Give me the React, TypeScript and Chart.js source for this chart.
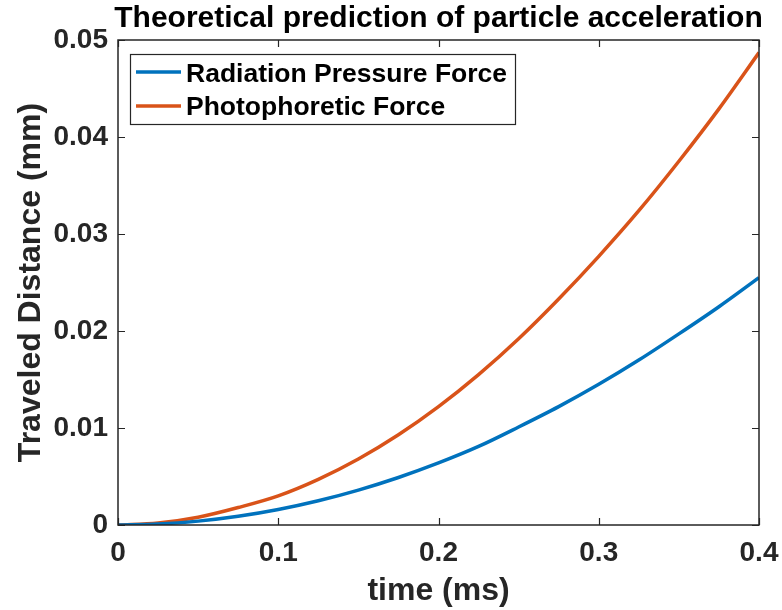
import React, { useEffect, useRef } from 'react';
import { Chart, registerables } from 'chart.js';

Chart.register(...registerables);

const chartTitle = 'Theoretical prediction of particle acceleration';
const xAxisTitle = 'time (ms)';
const yAxisTitle = 'Traveled Distance (mm)';

const timeMs = [0, 0.025, 0.05, 0.075, 0.1, 0.125, 0.15, 0.175, 0.2, 0.225, 0.25, 0.275, 0.3, 0.325, 0.35, 0.375, 0.4];
const radiationPressure = [0, 0.0001, 0.0004, 0.0009, 0.0016, 0.0025, 0.0036, 0.0049, 0.0064, 0.0081, 0.0101, 0.0122, 0.0145, 0.0170, 0.0197, 0.0225, 0.0255];
const photophoretic = [0, 0.0002, 0.0008, 0.0018, 0.0030, 0.0047, 0.0068, 0.0093, 0.0122, 0.0155, 0.0192, 0.0233, 0.0277, 0.0324, 0.0375, 0.0429, 0.0487];

const seriesLabels = ['Radiation Pressure Force', 'Photophoretic Force'];
const seriesColors = ['#0072BD', '#D95319'];

const xTickValues = [0, 0.1, 0.2, 0.3, 0.4];
const yTickValues = [0, 0.01, 0.02, 0.03, 0.04, 0.05];

const FONT = "'Liberation Sans', Arial, Helvetica, sans-serif";
const AXIS_COLOR = '#262626';

const framePlugin = {
  id: 'matlabFrame',
  afterDatasetsDraw(chart: any) {
    const { ctx, chartArea } = chart;
    const { left, right, top, bottom } = chartArea;
    const xs = chart.scales.x;
    const ys = chart.scales.y;
    ctx.save();
    ctx.strokeStyle = AXIS_COLOR;
    ctx.lineWidth = 1.2;
    const tl = 7;
    ctx.beginPath();
    xTickValues.forEach((v) => {
      const px = Math.round(xs.getPixelForValue(v)) + 0.5;
      ctx.moveTo(px, bottom);
      ctx.lineTo(px, bottom - tl);
      ctx.moveTo(px, top);
      ctx.lineTo(px, top + tl);
    });
    yTickValues.forEach((v) => {
      const py = Math.round(ys.getPixelForValue(v)) + 0.5;
      ctx.moveTo(left, py);
      ctx.lineTo(left + tl, py);
      ctx.moveTo(right, py);
      ctx.lineTo(right - tl, py);
    });
    ctx.stroke();
    ctx.lineWidth = 1.5;
    ctx.strokeRect(left, top, right - left, bottom - top);

    // title
    ctx.fillStyle = '#000';
    ctx.font = `bold 30px ${FONT}`;
    ctx.textAlign = 'center';
    ctx.textBaseline = 'alphabetic';
    ctx.fillText(chartTitle, (left + right) / 2, 27);

    // legend
    const bx = 130, by = 54, bw = 385, bh = 70;
    ctx.fillStyle = '#fff';
    ctx.fillRect(bx, by, bw, bh);
    ctx.strokeStyle = AXIS_COLOR;
    ctx.lineWidth = 1.2;
    ctx.strokeRect(bx + 0.5, by + 0.5, bw, bh);
    const rows = [72, 106];
    const baselines = [82, 115];
    chart.data.datasets.forEach((ds: any, i: number) => {
      ctx.strokeStyle = ds.borderColor;
      ctx.lineWidth = 3.5;
      ctx.beginPath();
      ctx.moveTo(136, rows[i]);
      ctx.lineTo(181, rows[i]);
      ctx.stroke();
      ctx.fillStyle = '#000';
      ctx.font = `bold 26.5px ${FONT}`;
      ctx.textAlign = 'left';
      ctx.textBaseline = 'alphabetic';
      ctx.fillText(ds.label, 186, baselines[i]);
    });
    ctx.restore();
  },
};

export default function App() {
  const canvasRef = useRef<HTMLCanvasElement | null>(null);

  useEffect(() => {
    if (!canvasRef.current) return;
    const datasets = [radiationPressure, photophoretic].map((vals, i) => ({
      label: seriesLabels[i],
      data: timeMs.map((t, j) => ({ x: t, y: vals[j] })),
      borderColor: seriesColors[i],
      backgroundColor: seriesColors[i],
      borderWidth: 3.5,
      pointRadius: 0,
      cubicInterpolationMode: 'monotone' as const,
      fill: false,
    }));
    const chart = new Chart(canvasRef.current, {
      type: 'line',
      data: { datasets },
      plugins: [framePlugin],
      options: {
        animation: false,
        responsive: false,
        layout: { padding: { top: 40, right: 23, left: 0, bottom: 0 } },
        plugins: {
          legend: { display: false },
          title: { display: false },
          tooltip: { enabled: false },
        },
        scales: {
          x: {
            type: 'linear',
            min: 0,
            max: 0.4,
            afterBuildTicks: (scale: any) => {
              scale.ticks = xTickValues.map((v) => ({ value: v }));
            },
            afterFit: (scale: any) => {
              scale.height = 85;
              scale.paddingLeft = 0;
              scale.paddingRight = 0;
            },
            grid: { display: false, drawTicks: false },
            border: { display: false },
            ticks: {
              padding: 11,
              color: AXIS_COLOR,
              font: { family: FONT, size: 28, weight: 'bold' },
              maxRotation: 0,
              callback: (v: any) => String(+Number(v).toFixed(2)),
            },
            title: {
              display: true,
              text: xAxisTitle,
              color: AXIS_COLOR,
              font: { family: FONT, size: 32, weight: 'bold' },
              padding: { top: 0, bottom: 0 },
            },
          },
          y: {
            type: 'linear',
            min: 0,
            max: 0.05,
            afterBuildTicks: (scale: any) => {
              scale.ticks = yTickValues.map((v) => ({ value: v }));
            },
            afterFit: (scale: any) => {
              scale.width = 118;
              scale.paddingTop = 0;
              scale.paddingBottom = 0;
            },
            grid: { display: false, drawTicks: false },
            border: { display: false },
            ticks: {
              padding: 10,
              color: AXIS_COLOR,
              font: { family: FONT, size: 28, weight: 'bold' },
              callback: (v: any) => String(+Number(v).toFixed(3)),
            },
            title: {
              display: true,
              text: yAxisTitle,
              color: AXIS_COLOR,
              font: { family: FONT, size: 32, weight: 'bold' },
              padding: { top: 12, bottom: 0 },
            },
          },
        },
      },
    } as any);
    return () => chart.destroy();
  }, []);

  return (
    <div style={{ position: 'absolute', left: 0, top: 0, width: 782, height: 610, background: '#fff' }}>
      <canvas ref={canvasRef} width={782} height={610} style={{ display: 'block', width: 782, height: 610 }} />
    </div>
  );
}
